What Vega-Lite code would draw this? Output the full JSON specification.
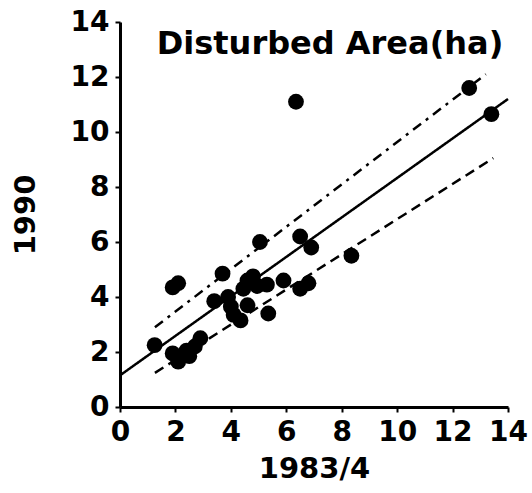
{
  "$schema": "https://vega.github.io/schema/vega-lite/v6.json",
  "width": 388,
  "height": 385,
  "autosize": {"type": "none"},
  "padding": {"left": 120, "top": 22, "right": 24, "bottom": 86},
  "background": "white",
  "config": {
    "view": {"stroke": null},
    "font": "DejaVu Sans",
    "axis": {
      "grid": false,
      "domainColor": "black",
      "domainWidth": 3,
      "tickColor": "black",
      "tickWidth": 2,
      "tickSize": 5,
      "labelFont": "DejaVu Sans",
      "labelFontWeight": "bold",
      "labelFontSize": 28,
      "labelColor": "black",
      "titleFont": "DejaVu Sans",
      "titleFontWeight": "bold",
      "titleFontSize": 29,
      "titleColor": "black"
    }
  },
  "title": {
    "text": "Disturbed Area(ha)",
    "font": "DejaVu Sans",
    "fontWeight": "bold",
    "fontSize": 32,
    "color": "black",
    "anchor": "middle",
    "dx": 16,
    "dy": 57
  },
  "layer": [
    {
      "data": {
        "values": [
          {"x": 0.0, "y": 1.15, "series": "fit"},
          {"x": 14.0, "y": 11.2, "series": "fit"},
          {"x": 1.26, "y": 2.9, "series": "upper"},
          {"x": 13.2, "y": 12.1, "series": "upper"},
          {"x": 1.26, "y": 1.24, "series": "lower"},
          {"x": 13.47, "y": 9.05, "series": "lower"}
        ]
      },
      "mark": {"type": "line", "color": "black", "strokeWidth": 2.5},
      "encoding": {
        "x": {"field": "x", "type": "quantitative"},
        "y": {"field": "y", "type": "quantitative"},
        "detail": {"field": "series"},
        "strokeDash": {
          "field": "series",
          "type": "nominal",
          "scale": {
            "domain": ["fit", "upper", "lower"],
            "range": [[1, 0], [10, 6, 3, 6], [10, 6]]
          },
          "legend": null
        }
      }
    },
    {
      "data": {
        "values": [
          {"x": 6.35, "y": 11.1},
          {"x": 12.6, "y": 11.6},
          {"x": 13.4, "y": 10.65},
          {"x": 8.35, "y": 5.5},
          {"x": 5.05, "y": 6.0},
          {"x": 6.5, "y": 6.2},
          {"x": 6.9, "y": 5.8},
          {"x": 3.7, "y": 4.85},
          {"x": 1.9, "y": 4.35},
          {"x": 2.1, "y": 4.5},
          {"x": 5.35, "y": 3.4},
          {"x": 5.9, "y": 4.6},
          {"x": 6.5, "y": 4.3},
          {"x": 6.8, "y": 4.5},
          {"x": 3.4, "y": 3.85},
          {"x": 3.9, "y": 4.0},
          {"x": 4.45, "y": 4.3},
          {"x": 4.95, "y": 4.4},
          {"x": 5.3, "y": 4.45},
          {"x": 4.6, "y": 4.6},
          {"x": 4.8, "y": 4.75},
          {"x": 4.35, "y": 3.15},
          {"x": 4.1, "y": 3.35},
          {"x": 4.6, "y": 3.7},
          {"x": 4.0, "y": 3.65},
          {"x": 1.25, "y": 2.25},
          {"x": 1.9, "y": 1.95},
          {"x": 2.1, "y": 1.65},
          {"x": 2.5, "y": 1.85},
          {"x": 2.7, "y": 2.2},
          {"x": 2.9, "y": 2.5},
          {"x": 2.4, "y": 2.05}
        ]
      },
      "mark": {"type": "circle", "color": "black", "opacity": 1, "size": 250},
      "encoding": {
        "x": {
          "field": "x",
          "type": "quantitative",
          "title": "1983/4",
          "scale": {"domain": [0, 14], "nice": false, "zero": true},
          "axis": {
            "values": [0, 1, 2, 3, 4, 5, 6, 7, 8, 9, 10, 11, 12, 13, 14],
            "labelExpr": "datum.value % 2 == 0 ? datum.label : ''",
            "labelPadding": 6,
            "titlePadding": 8,
            "labelFlush": false,
            "labelOverlap": false
          }
        },
        "y": {
          "field": "y",
          "type": "quantitative",
          "title": "1990",
          "scale": {"domain": [0, 14], "nice": false, "zero": true},
          "axis": {
            "values": [0, 1, 2, 3, 4, 5, 6, 7, 8, 9, 10, 11, 12, 13, 14],
            "labelExpr": "datum.value % 2 == 0 ? datum.label : ''",
            "labelPadding": 6,
            "titlePadding": 30,
            "labelFlush": false,
            "labelOverlap": false
          }
        }
      }
    }
  ]
}
